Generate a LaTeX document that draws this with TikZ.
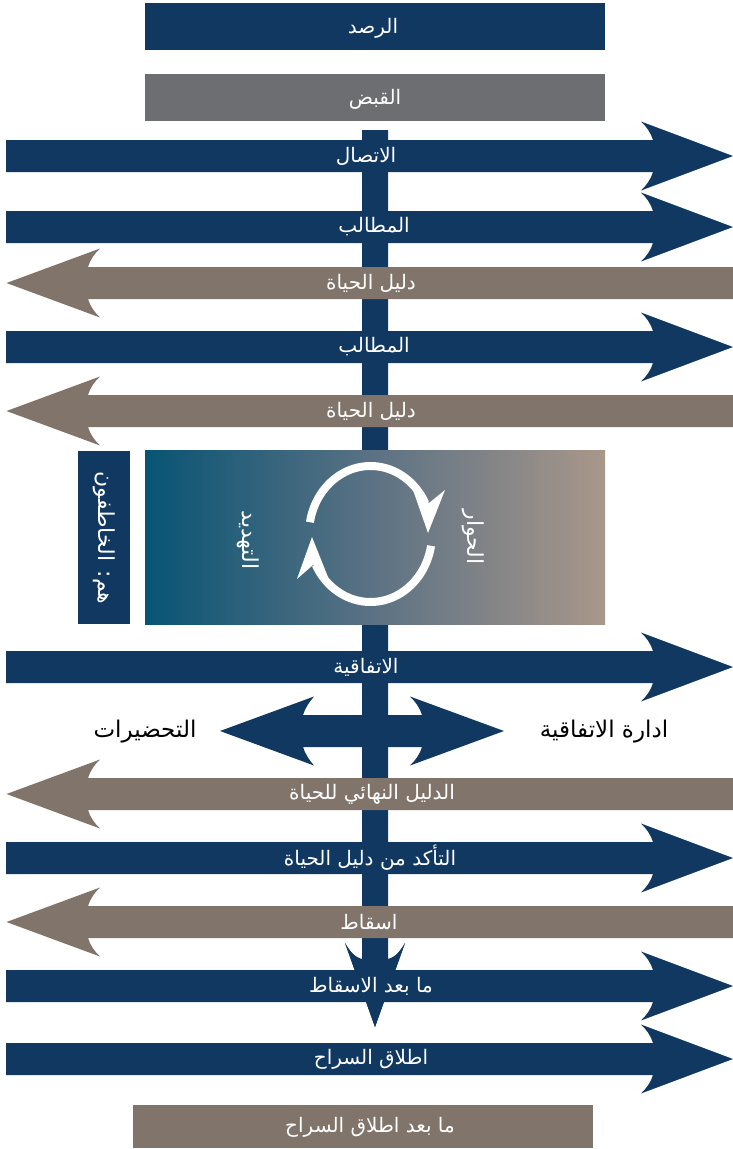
\documentclass[tikz,border=0pt]{standalone}
\usepackage{fontspec}
\newfontfamily\arabicfont[Script=Arabic]{DejaVu Sans}
\TeXXeTstate=1
\definecolor{navy}{RGB}{16,56,97}
\definecolor{brownish}{RGB}{128,116,107}
\definecolor{grayb}{RGB}{109,110,113}
\definecolor{gradL}{RGB}{8,84,116}
\definecolor{gradM}{RGB}{92,114,132}
\definecolor{gradR}{RGB}{169,151,138}
\newcommand{\rightarrowshape}[2]{%
  \begin{scope}[shift={(0,#1)}]
    \fill[#2] (6,-16) -- (653,-16) .. controls (651,-23) and (646,-30) .. (641,-34.5) -- (733,0)
      -- (641,34.5) .. controls (646,30) and (651,23) .. (653,16) -- (6,16) -- cycle;
  \end{scope}}
\newcommand{\leftarrowshape}[2]{%
  \begin{scope}[shift={(0,#1)}]
    \fill[#2] (733,-16) -- (88,-16) .. controls (90,-23) and (95,-30) .. (100,-34.5) -- (6.5,0)
      -- (100,34.5) .. controls (95,30) and (90,23) .. (88,16) -- (733,16) -- cycle;
  \end{scope}}
\tikzset{
  lbl/.style={text=white, font=\arabicfont\fontsize{20}{22}\selectfont, inner sep=0pt},
  sidelbl/.style={text=black, font=\arabicfont\fontsize{23}{25}\selectfont, inner sep=0pt},
  vlbl/.style={text=white, font=\arabicfont\fontsize{22}{24}\selectfont, inner sep=0pt, rotate=-90},
  cyc/.style={draw=white, line width=8pt, line cap=butt},
}
\begin{document}
\begin{tikzpicture}[x=1pt,y=-1pt]
\useasboundingbox (0,0) rectangle (733,1149);
% top boxes
\fill[navy] (145,3) rectangle (605,50);
\node[lbl] (rasd) at (373,28) {\beginR الرصد\endR};
\fill[grayb] (145,74) rectangle (605,121);
\node[lbl] (qabd) at (375,99) {\beginR القبض\endR};
% trunk with down head
\fill[navy] (362,130) -- (388,130) -- (388,959) .. controls (396,957) and (401,950) .. (405,943)
  -- (375,1027) -- (345,943) .. controls (349,950) and (354,957) .. (362,959) -- cycle;
% horizontal arrows
\rightarrowshape{156}{navy}
\node[lbl] (ittisal) at (366,156) {\beginR الاتصال\endR};
\rightarrowshape{227}{navy}
\node[lbl] (matalib1) at (374,227) {\beginR المطالب\endR};
\leftarrowshape{283}{brownish}
\node[lbl] (dalil1) at (371,283) {\beginR دليل الحياة\endR};
\rightarrowshape{347}{navy}
\node[lbl] (matalib2) at (374,347) {\beginR المطالب\endR};
\leftarrowshape{411}{brownish}
\node[lbl] (dalil2) at (371,411) {\beginR دليل الحياة\endR};
% kidnappers box and gradient box
\fill[navy] (78,451) rectangle (130,624);
\node[vlbl] (khatifun) at (104,538) {\beginR هم: الخاطفون\endR};
\shade[left color=gradL, right color=gradR, middle color=gradM] (145,450) rectangle (605,624);
\node[vlbl] (tahdid) at (248,540) {\beginR التهديد\endR};
\node[vlbl] (hiwar) at (473,537) {\beginR الحوار\endR};
% cycle arrows
\draw[cyc] plot[domain=190:333, samples=50] ({370.5+61.5*cos(\x)},{534+68*sin(\x)});
\fill[white] (413,490) -- (428,533) -- (445,490) -- (429,503) -- cycle;
\draw[cyc] plot[domain=10:153, samples=50] ({370.5+61.5*cos(\x)},{534+68*sin(\x)});
\fill[white] (297,579) -- (312,537) -- (328,577) -- (313,565) -- cycle;
% lower arrows
\rightarrowshape{667}{navy}
\node[lbl] (ittifaqiya) at (366,667) {\beginR الاتفاقية\endR};
% double arrow
\fill[navy] (303,715) -- (422,715) .. controls (420,708) and (415,701) .. (410,696.5) -- (504,731)
  -- (410,765.5) .. controls (415,761) and (420,754) .. (422,747) -- (303,747)
  .. controls (305,754) and (310,761) .. (314,765.5) -- (220,731)
  -- (314,696.5) .. controls (310,701) and (305,708) .. (303,715) -- cycle;
\node[sidelbl] (tahdirat) at (145,732) {\beginR التحضيرات\endR};
\node[sidelbl] (idara) at (604,732) {\beginR ادارة الاتفاقية\endR};
\leftarrowshape{794}{brownish}
\node[lbl] (nihai) at (372,794) {\beginR الدليل النهائي للحياة\endR};
\rightarrowshape{858}{navy}
\node[lbl] (taakkud) at (370,858) {\beginR التأكد من دليل الحياة\endR};
\leftarrowshape{922}{brownish}
\node[lbl] (isqat) at (369,922) {\beginR اسقاط\endR};
\rightarrowshape{986}{navy}
\fill[navy] (362,960) -- (388,960) .. controls (396,957) and (401,950) .. (405,943)
  -- (375,1027) -- (345,943) .. controls (349,950) and (354,957) .. (362,960) -- cycle;
\node[lbl] (baadisqat) at (371,986) {\beginR ما بعد الاسقاط\endR};
\rightarrowshape{1059}{navy}
\node[lbl] (itlaq) at (371,1059) {\beginR اطلاق السراح\endR};
% bottom box
\fill[brownish] (133,1105) rectangle (593,1148);
\node[lbl] (baaditlaq) at (370,1127) {\beginR ما بعد اطلاق السراح\endR};
\end{tikzpicture}
\end{document}
